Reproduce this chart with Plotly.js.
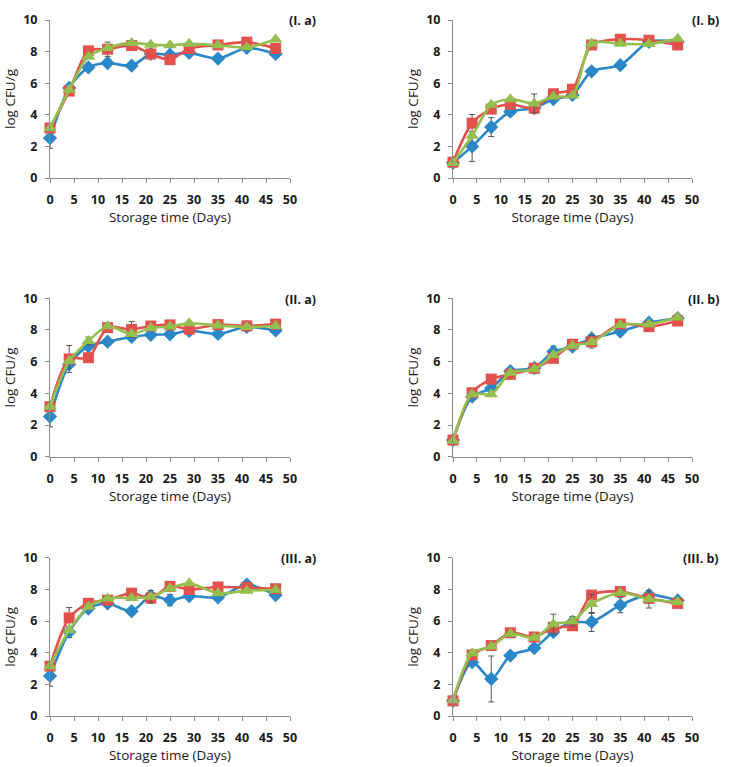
<!DOCTYPE html>
<html>
<head>
<meta charset="utf-8">
<script src="https://cdn.plot.ly/plotly-3.0.1.min.js"></script>
<style>html,body{margin:0;padding:0;background:#fff}#chart{width:730px;height:767px}</style>
</head>
<body>
<div id="chart"></div>
<script>
// Storage days
const days = [0, 4, 8, 12, 17, 21, 25, 29, 35, 41, 47];
const panelLabels = ['(I. a)', '(I. b)', '(II. a)', '(II. b)', '(III. a)', '(III. b)'];
const xTitle = 'Storage time (Days)';
const yTitle = 'log CFU/g';

// Panel I.a
const ia_blue  = [2.53, 5.70, 7.00, 7.28, 7.11, 7.85, 7.80, 7.92, 7.56, 8.23, 7.85];
const ia_red   = [3.16, 5.50, 8.05, 8.15, 8.38, 7.85, 7.49, 8.20, 8.42, 8.60, 8.20];
const ia_green = [3.15, 5.58, 7.68, 8.23, 8.55, 8.44, 8.40, 8.49, 8.40, 8.27, 8.76];
const ia_blue_err  = [0.65, 0.15, 0.10, 0.10, 0.10, 0.10, 0.10, 0.10, 0.10, 0.20, 0.10];
const ia_red_err   = [0.10, 0.10, 0.10, 0.45, 0.10, 0.10, 0.10, 0.10, 0.10, 0.10, 0.10];
const ia_green_err = [0.10, 0.10, 0.10, 0.10, 0.15, 0.10, 0.10, 0.10, 0.10, 0.10, 0.10];

// Panel I.b
const ib_blue  = [0.96, 2.00, 3.22, 4.20, 4.42, 5.00, 5.26, 6.75, 7.14, 8.62, 8.62];
const ib_red   = [1.00, 3.47, 4.36, 4.67, 4.42, 5.33, 5.62, 8.42, 8.78, 8.72, 8.42];
const ib_green = [0.95, 2.67, 4.63, 4.99, 4.72, 5.16, 5.22, 8.52, 8.50, 8.48, 8.82];
const ib_blue_err  = [0.10, 0.95, 0.60, 0.15, 0.10, 0.10, 0.10, 0.10, 0.10, 0.10, 0.10];
const ib_red_err   = [0.10, 0.55, 0.10, 0.10, 0.10, 0.10, 0.10, 0.10, 0.10, 0.10, 0.10];
const ib_green_err = [0.10, 0.10, 0.10, 0.10, 0.60, 0.10, 0.10, 0.10, 0.10, 0.10, 0.10];

// Panel II.a
const iia_blue  = [2.53, 5.83, 6.99, 7.26, 7.56, 7.70, 7.73, 7.95, 7.75, 8.19, 7.97];
const iia_red   = [3.16, 6.17, 6.25, 8.15, 8.04, 8.25, 8.32, 8.05, 8.34, 8.26, 8.37];
const iia_green = [3.16, 6.04, 7.30, 8.23, 7.75, 8.12, 8.22, 8.42, 8.28, 8.19, 8.25];
const iia_blue_err  = [0.65, 0.20, 0.10, 0.10, 0.15, 0.10, 0.10, 0.25, 0.10, 0.10, 0.20];
const iia_red_err   = [0.10, 0.85, 0.10, 0.10, 0.50, 0.10, 0.10, 0.10, 0.10, 0.10, 0.10];
const iia_green_err = [0.10, 0.10, 0.25, 0.10, 0.10, 0.10, 0.10, 0.10, 0.10, 0.10, 0.10];

// Panel II.b
const iib_blue  = [1.05, 3.79, 4.32, 5.40, 5.60, 6.63, 6.95, 7.47, 7.90, 8.46, 8.74];
const iib_red   = [1.05, 4.04, 4.90, 5.20, 5.58, 6.21, 7.10, 7.26, 8.38, 8.21, 8.57];
const iib_green = [1.00, 3.94, 3.94, 5.30, 5.52, 6.42, 7.01, 7.22, 8.32, 8.36, 8.78];
const iib_blue_err  = [0.10, 0.10, 0.10, 0.10, 0.10, 0.35, 0.15, 0.10, 0.10, 0.10, 0.10];
const iib_red_err   = [0.10, 0.10, 0.10, 0.10, 0.10, 0.10, 0.10, 0.40, 0.10, 0.10, 0.10];
const iib_green_err = [0.10, 0.10, 0.10, 0.10, 0.10, 0.10, 0.10, 0.10, 0.10, 0.10, 0.10];

// Panel III.a
const iiia_blue  = [2.53, 5.31, 6.79, 7.11, 6.62, 7.58, 7.32, 7.58, 7.49, 8.30, 7.64];
const iiia_red   = [3.15, 6.20, 7.12, 7.32, 7.76, 7.45, 8.19, 8.00, 8.15, 8.12, 8.04];
const iiia_green = [3.15, 5.42, 6.90, 7.43, 7.45, 7.53, 8.05, 8.38, 7.75, 7.92, 7.96];
const iiia_blue_err  = [0.65, 0.35, 0.20, 0.10, 0.15, 0.10, 0.35, 0.10, 0.10, 0.10, 0.10];
const iiia_red_err   = [0.10, 0.65, 0.10, 0.10, 0.10, 0.10, 0.10, 0.10, 0.10, 0.10, 0.10];
const iiia_green_err = [0.10, 0.10, 0.10, 0.10, 0.10, 0.40, 0.10, 0.10, 0.10, 0.10, 0.10];

// Panel III.b
const iiib_blue  = [0.96, 3.40, 2.34, 3.82, 4.29, 5.31, 5.94, 5.94, 7.00, 7.65, 7.30];
const iiib_red   = [0.96, 3.86, 4.45, 5.26, 4.99, 5.60, 5.70, 7.64, 7.86, 7.43, 7.11];
const iiib_green = [1.00, 3.97, 4.39, 5.20, 4.95, 5.80, 5.99, 7.08, 7.79, 7.37, 7.20];
const iiib_blue_err  = [0.10, 0.15, 1.45, 0.10, 0.10, 0.10, 0.10, 0.60, 0.48, 0.22, 0.10];
const iiib_red_err   = [0.10, 0.10, 0.10, 0.10, 0.10, 0.10, 0.10, 0.10, 0.10, 0.10, 0.10];
const iiib_green_err = [0.10, 0.10, 0.10, 0.10, 0.10, 0.63, 0.30, 0.60, 0.10, 0.55, 0.10];

const panels = [
  [ia_blue, ia_red, ia_green, ia_blue_err, ia_red_err, ia_green_err],
  [ib_blue, ib_red, ib_green, ib_blue_err, ib_red_err, ib_green_err],
  [iia_blue, iia_red, iia_green, iia_blue_err, iia_red_err, iia_green_err],
  [iib_blue, iib_red, iib_green, iib_blue_err, iib_red_err, iib_green_err],
  [iiia_blue, iiia_red, iiia_green, iiia_blue_err, iiia_red_err, iiia_green_err],
  [iiib_blue, iiib_red, iiib_green, iiib_blue_err, iiib_red_err, iiib_green_err]
];

const W = 730, H = 767;
const colX = [[50, 290], [453, 692]];
const rowY = [[20, 178], [298.3, 456.7], [557.7, 716]];
const styles = [
  {color: '#2b87c8', symbol: 'diamond', size: 11},
  {color: '#e2514c', symbol: 'square', size: 11},
  {color: '#94bf4f', symbol: 'triangle-up', size: 12}
];

const traces = [];
const layout = {
  width: W, height: H,
  margin: {l: 0, r: 0, t: 0, b: 0},
  paper_bgcolor: '#fff', plot_bgcolor: '#fff',
  showlegend: false,
  font: {family: 'Open Sans, Liberation Sans, sans-serif', color: '#1a1a1a'},
  annotations: []
};

panels.forEach((p, i) => {
  const r = Math.floor(i / 2), c = i % 2;
  const sfx = i === 0 ? '' : String(i + 1);
  const xd = [colX[c][0] / W, colX[c][1] / W];
  const yd = [1 - rowY[r][1] / H, 1 - rowY[r][0] / H];
  for (let s = 0; s < 3; s++) {
    traces.push({
      type: 'scatter', mode: 'lines+markers',
      x: days, y: p[s],
      xaxis: 'x' + sfx, yaxis: 'y' + sfx,
      line: {color: styles[s].color, width: 2.6, shape: 'spline', smoothing: 0.8},
      marker: {color: styles[s].color, symbol: styles[s].symbol, size: styles[s].size},
      error_y: {type: 'data', array: p[s + 3], visible: true, color: '#555', thickness: 1, width: 3},
      cliponaxis: false
    });
  }
  const axBase = {
    showgrid: false, zeroline: false, showline: true,
    linecolor: '#8c8c8c', linewidth: 1,
    ticks: 'outside', ticklen: 4, tickcolor: '#8c8c8c',
    tickfont: {family: 'Open Sans, sans-serif', size: 12.5, weight: 700, color: '#1a1a1a'},
    fixedrange: true
  };
  layout['xaxis' + sfx] = Object.assign({}, axBase, {
    domain: xd, anchor: 'y' + sfx, range: [0, 50], dtick: 5, tick0: 0,
    ticklabelstandoff: 6,
    title: {text: xTitle, font: {family: 'Open Sans, sans-serif', size: 13.5, color: '#1a1a1a'}, standoff: 2}
  });
  layout['yaxis' + sfx] = Object.assign({}, axBase, {
    domain: yd, anchor: 'x' + sfx, range: [0, 10], dtick: 2, tick0: 0,
    ticklabelstandoff: 5,
    title: {text: yTitle, font: {family: 'Open Sans, sans-serif', size: 13.5, color: '#1a1a1a'}, standoff: 4}
  });
  layout.annotations.push({
    text: '<b>' + panelLabels[i] + '</b>',
    xref: 'paper', yref: 'paper',
    x: (c === 0 ? 318 : 721) / W, y: yd[1] - 1 / H,
    xanchor: 'right', yanchor: 'middle', showarrow: false,
    font: {family: 'Open Sans, sans-serif', size: 12.5, color: '#1a1a1a'}
  });
});

Plotly.newPlot('chart', traces, layout, {displayModeBar: false, staticPlot: true});
</script>
</body>
</html>
